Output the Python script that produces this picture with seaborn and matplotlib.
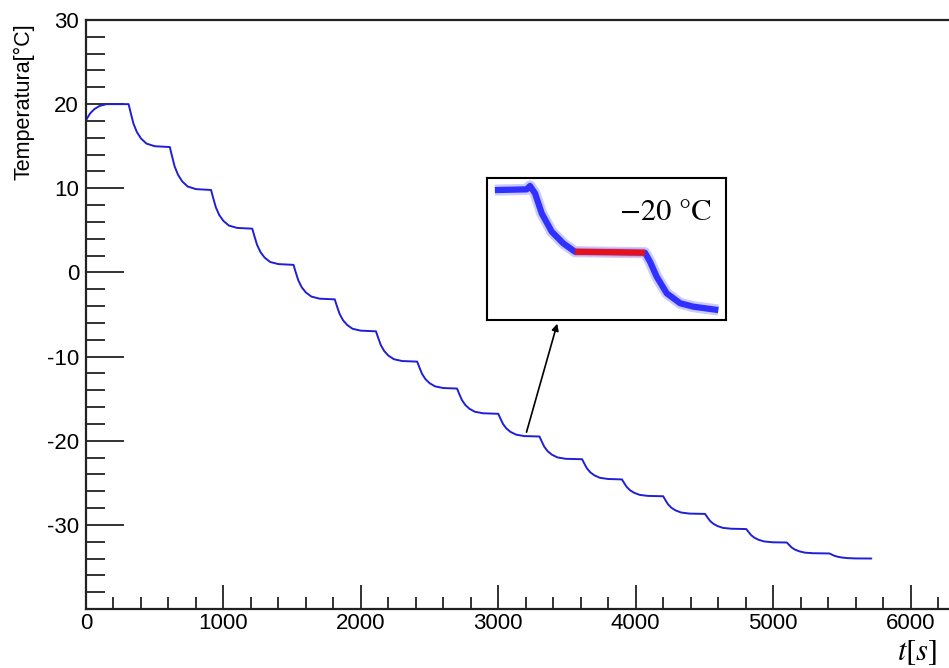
import matplotlib
matplotlib.use("Agg")
import matplotlib.pyplot as plt
from matplotlib.ticker import MultipleLocator
import seaborn as sns

# 温度曲线 (时间 s, 温度 °C)
t_s = [0, 30, 60, 100, 150,
       310, 325, 345, 370, 400, 440, 500,
       610, 625, 645, 670, 700, 740, 800,
       910, 925, 945, 970, 1000, 1040, 1100,
       1210, 1225, 1245, 1270, 1300, 1340, 1400,
       1510, 1525, 1545, 1570, 1600, 1640, 1700,
       1810, 1825, 1845, 1870, 1900, 1940, 2000,
       2110, 2125, 2145, 2170, 2200, 2240, 2300,
       2410, 2425, 2445, 2470, 2500, 2540, 2600,
       2700, 2715, 2735, 2760, 2790, 2830, 2890,
       3000, 3015, 3035, 3060, 3090, 3130, 3190,
       3300, 3315, 3335, 3360, 3390, 3430, 3490,
       3610, 3625, 3645, 3670, 3700, 3740, 3800,
       3900, 3915, 3935, 3960, 3990, 4030, 4090,
       4200, 4215, 4235, 4260, 4290, 4330, 4390,
       4505, 4520, 4540, 4565, 4595, 4635, 4695,
       4805, 4820, 4840, 4865, 4895, 4935, 4995,
       5100, 5115, 5135, 5160, 5190, 5230, 5290,
       5410, 5425, 5445, 5470, 5500, 5540, 5600,
       5715]
temp_c = [18.1, 18.9, 19.4, 19.8, 20.0,
          20.0, 18.98, 17.7, 16.69, 15.92, 15.31, 15.0,
          14.9, 13.88, 12.6, 11.59, 10.82, 10.21, 9.9,
          9.8, 8.88, 7.73, 6.81, 6.12, 5.57, 5.29,
          5.2, 4.34, 3.27, 2.41, 1.76, 1.24, 0.99,
          0.9, 0.08, -0.95, -1.77, -2.38, -2.87, -3.12,
          -3.2, -3.96, -4.91, -5.67, -6.24, -6.7, -6.92,
          -7.0, -7.72, -8.62, -9.34, -9.88, -10.31, -10.53,
          -10.6, -11.24, -12.04, -12.68, -13.16, -13.54, -13.74,
          -13.8, -14.4, -15.15, -15.75, -16.2, -16.56, -16.74,
          -16.8, -17.34, -18.02, -18.56, -18.96, -19.28, -19.45,
          -19.5, -20.04, -20.72, -21.26, -21.66, -21.98, -22.15,
          -22.2, -22.68, -23.28, -23.76, -24.12, -24.41, -24.55,
          -24.6, -25.0, -25.5, -25.9, -26.2, -26.44, -26.56,
          -26.6, -27.02, -27.55, -27.97, -28.28, -28.53, -28.66,
          -28.7, -29.06, -29.51, -29.87, -30.14, -30.36, -30.46,
          -30.5, -30.82, -31.22, -31.54, -31.78, -31.97, -32.07,
          -32.1, -32.36, -32.69, -32.95, -33.14, -33.3, -33.37,
          -33.4, -33.52, -33.67, -33.79, -33.88, -33.95, -33.99,
          -34.0]

# 放大图中的曲线 (相对坐标 0-100)
inset_x = [3.3, 16.6, 18.0, 20.1, 22.9, 27.1, 31.9, 36.8, 66.1, 68.2, 71.0, 75.2, 80.8, 86.3, 96.8]
inset_y = [91.5, 92.0, 94.4, 89.2, 75.1, 62.2, 54.0, 48.1, 47.4, 41.1, 30.5, 18.8, 11.8, 9.4, 7.0]
plateau_x = [36.8, 66.1]
plateau_y = [48.1, 47.4]
y_ticks = [-30, -20, -10, 0, 10, 20, 30]

sns.set_style("white")
plt.rcParams['font.family'] = ['Liberation Sans', 'DejaVu Sans']
plt.rcParams['mathtext.fontset'] = 'stix'
plt.rcParams['axes.unicode_minus'] = False

fig = plt.figure(figsize=(9.49, 6.68), dpi=100)
ax = fig.add_axes([86 / 949, 1 - 609 / 668, 1 - 86 / 949, 589 / 668])

sns.lineplot(x=t_s, y=temp_c, ax=ax, color="#1f1fd6", linewidth=1.4, estimator=None)

ax.set_xlim(0, 6280)
ax.set_ylim(-40, 30)
ax.xaxis.set_major_locator(MultipleLocator(1000))
ax.xaxis.set_minor_locator(MultipleLocator(200))
ax.set_yticks(y_ticks)
ax.yaxis.set_minor_locator(MultipleLocator(2))
ax.tick_params(axis="x", which="major", direction="in", length=17, width=1.3, pad=3, labelsize=16,
               color="#222222", labelcolor="black")
ax.tick_params(axis="x", which="minor", direction="in", length=9, width=1.3, color="#222222")
ax.tick_params(axis="y", which="major", direction="in", length=27, width=1.3, pad=5, labelsize=16,
               color="#222222", labelcolor="black")
ax.tick_params(axis="y", which="minor", direction="in", length=14, width=1.3, color="#222222")
ax.tick_params(bottom=True, left=True, which="both")
for side in ["left", "bottom", "top"]:
    ax.spines[side].set_color("#222222")
    ax.spines[side].set_linewidth(1.6)
ax.spines["right"].set_visible(False)
ax.set_xlabel("")
ax.set_ylabel("")

fig.text(24 / 949, 1 - 102 / 668, "Temperatura[°C]", rotation=90, ha="center", va="center",
         fontsize=15.5, color="black")
fig.text(917 / 949, 1 - 652 / 668, r"$t[s]$", ha="center", va="center", fontsize=22, color="black")

# 放大窗口
axin = fig.add_axes([487 / 949, 1 - 320 / 668, 239 / 949, 142 / 668])
axin.plot(inset_x, inset_y, color="#3030ff", linewidth=8, alpha=0.25, solid_capstyle="butt")
axin.plot(inset_x, inset_y, color="#2020ff", linewidth=4.5, alpha=0.9, solid_capstyle="butt")
axin.plot(plateau_x, plateau_y, color="#ff3030", linewidth=6, alpha=0.3, solid_capstyle="butt")
axin.plot(plateau_x, plateau_y, color="#e8101a", linewidth=4, solid_capstyle="butt")
axin.set_xlim(0, 100)
axin.set_ylim(0, 100)
axin.set_xticks([])
axin.set_yticks([])
for side in axin.spines.values():
    side.set_color("black")
    side.set_linewidth(1.5)
axin.text(75, 75, "\u221220 \u00b0C", ha="center", va="center", fontsize=22, color="black",
          family=["STIXGeneral", "DejaVu Serif"])

ax.annotate("", xy=(558 / 949, 1 - 321 / 668), xycoords="figure fraction",
            xytext=(3200, -19.3), textcoords="data",
            arrowprops=dict(arrowstyle="-|>", color="black", lw=1.2, mutation_scale=10))

fig.savefig("out.png", dpi=100)
